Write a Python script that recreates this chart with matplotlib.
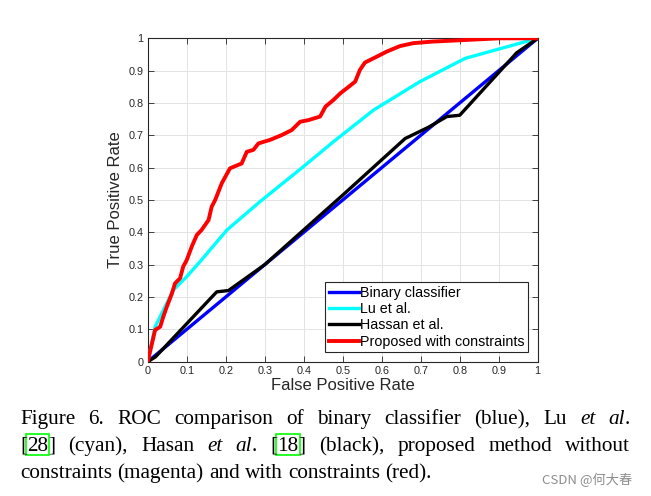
import matplotlib
matplotlib.use("Agg")
import matplotlib.pyplot as plt
from matplotlib.patches import Rectangle

# ---------------- data ----------------
binary_fpr = [0.0, 1.0]
binary_tpr = [0.0, 1.0]

lu_fpr = [0.0, 0.019, 0.066, 0.10, 0.134, 0.203, 0.288, 0.399, 0.476, 0.579, 0.698, 0.814, 1.0]
lu_tpr = [0.0, 0.108, 0.222, 0.263, 0.309, 0.407, 0.495, 0.603, 0.680, 0.778, 0.866, 0.938, 1.0]

hassan_fpr = [0.0, 0.02, 0.177, 0.207, 0.30, 0.50, 0.66, 0.72, 0.767, 0.80, 0.946, 1.0]
hassan_tpr = [0.0, 0.015, 0.216, 0.220, 0.30, 0.515, 0.69, 0.725, 0.758, 0.762, 0.955, 1.0]

prop_fpr = [0.0, 0.019, 0.032, 0.040, 0.049, 0.062, 0.070, 0.083, 0.091, 0.100, 0.113,
            0.126, 0.138, 0.156, 0.164, 0.173, 0.190, 0.211, 0.241, 0.254, 0.271, 0.284,
            0.314, 0.344, 0.369, 0.391, 0.412, 0.442, 0.456, 0.476, 0.494, 0.510, 0.532,
            0.544, 0.557, 0.587, 0.613, 0.647, 0.681, 0.732, 0.818, 0.903, 1.0]
prop_tpr = [0.0, 0.098, 0.108, 0.139, 0.170, 0.211, 0.242, 0.258, 0.294, 0.314, 0.356,
            0.392, 0.407, 0.438, 0.479, 0.500, 0.552, 0.598, 0.613, 0.649, 0.655, 0.675,
            0.686, 0.701, 0.716, 0.742, 0.747, 0.758, 0.789, 0.809, 0.830, 0.845, 0.866,
            0.902, 0.925, 0.943, 0.959, 0.976, 0.985, 0.990, 0.995, 1.0, 1.0]

ticks = [0, 0.1, 0.2, 0.3, 0.4, 0.5, 0.6, 0.7, 0.8, 0.9, 1]
tick_labels = ["0", "0.1", "0.2", "0.3", "0.4", "0.5", "0.6", "0.7", "0.8", "0.9", "1"]
legend_labels = ["Binary classifier", "Lu et al.", "Hassan et al.", "Proposed with constraints"]

# ---------------- figure ----------------
W, H = 651, 496
fig = plt.figure(figsize=(W / 100, H / 100), dpi=100)
fig.patch.set_facecolor("white")
sans = "Liberation Sans"
serif = "Liberation Serif"

ax = fig.add_axes([147.7 / W, 1 - 361.7 / H, 390 / W, 323.4 / H])
ax.plot(binary_fpr, binary_tpr, color="#0000ff", lw=2.4, label=legend_labels[0], zorder=3)
ax.plot(lu_fpr, lu_tpr, color="#00ffff", lw=2.4, label=legend_labels[1], zorder=3)
ax.plot(hassan_fpr, hassan_tpr, color="#000000", lw=2.4, label=legend_labels[2], zorder=4)
ax.plot(prop_fpr, prop_tpr, color="#ff0000", lw=2.8, label=legend_labels[3], zorder=5)

ax.set_xlim(0, 1)
ax.set_ylim(0, 1)
ax.set_xticks(ticks)
ax.set_yticks(ticks)
ax.set_xticklabels(tick_labels, fontfamily=sans, fontsize=7.8)
ax.set_yticklabels(tick_labels, fontfamily=sans, fontsize=7.8)
ax.tick_params(direction="in", length=4, width=0.6, top=True, right=True, pad=3, colors="#262626")
ax.grid(True, color="#e3e3e3", lw=0.7)
ax.set_axisbelow(True)
for s in ax.spines.values():
    s.set_color("#262626")
    s.set_linewidth(0.8)

fig.text(115 / W, 1 - 200 / H, "True Positive Rate", rotation=90, ha="center", va="center",
         fontfamily=sans, fontsize=12, color="#262626")
fig.text(342.7 / W, 1 - 386 / H, "False Positive Rate", ha="center", va="center",
         fontfamily=sans, fontsize=12, color="#262626")

leg = ax.legend(loc="lower right", bbox_to_anchor=(0.976, 0.029), borderaxespad=0,
                prop={"family": sans, "size": 10.25}, frameon=True, fancybox=False,
                edgecolor="#262626", framealpha=1, handlelength=2.1, handletextpad=0.1,
                labelspacing=0.17, borderpad=0.25)
leg.get_frame().set_linewidth(0.8)

# ---------------- caption (justified) ----------------
fig.canvas.draw()
renderer = fig.canvas.get_renderer()

line1 = [[("Figure", "n", False)], [("6.", "n", False)], [("ROC", "n", False)],
         [("comparison", "n", False)], [("of", "n", False)], [("binary", "n", False)],
         [("classifier", "n", False)], [("(blue),", "n", False)], [("Lu", "n", False)],
         [("et", "i", False)], [("al", "i", False), (".", "n", False)]]
line2 = [[("[", "n", False), ("28", "n", True), ("]", "n", False)], [("(cyan),", "n", False)],
         [("Hasan", "n", False)], [("et", "i", False)], [("al", "i", False), (".", "n", False)],
         [("[", "n", False), ("18", "n", True), ("]", "n", False)], [("(black),", "n", False)],
         [("proposed", "n", False)], [("method", "n", False)], [("without", "n", False)]]
line3 = [[("constraints", "n", False)], [("(magenta)", "n", False)], [("and", "n", False)],
         [("with", "n", False)], [("constraints", "n", False)], [("(red).", "n", False)]]

cap_fs = 15.3
left_px, right_px = 20.0, 630.0
baselines = [424.0, 451.0, 478.0]


def make(seg, x, y):
    txt, st, _ = seg
    return fig.text(x / W, 1 - y / H, txt, fontfamily=serif, fontsize=cap_fs,
                    fontstyle="italic" if st == "i" else "normal", va="baseline",
                    ha="left", color="black")


def width_of(t):
    return t.get_window_extent(renderer).width


space_probe = fig.text(0, 0, "a a", fontfamily=serif, fontsize=cap_fs)
aa_probe = fig.text(0, 0, "aa", fontfamily=serif, fontsize=cap_fs)
space_w = width_of(space_probe) - width_of(aa_probe)
space_probe.remove()
aa_probe.remove()

for li, (line, yb) in enumerate(zip([line1, line2, line3], baselines)):
    words = []
    for word in line:
        segs = []
        for seg in word:
            t = make(seg, 0, yb)
            segs.append((t, width_of(t), seg[2]))
        words.append(segs)
    widths = [sum(s[1] for s in w) for w in words]
    if li < 2:
        gap = (right_px - left_px - sum(widths)) / (len(words) - 1)
    else:
        gap = space_w
    x = left_px
    for w, segs in zip(widths, words):
        xx = x
        for t, sw, boxed in segs:
            t.set_x(xx / W)
            if boxed:
                fig.patches.append(Rectangle(((xx - 1) / W, 1 - (yb + 4) / H), (sw + 2) / W,
                                             21 / H, transform=fig.transFigure, fill=False,
                                             edgecolor="#00ff00", lw=1.2))
            xx += sw
        x += w + gap

fig.text(632 / W, 1 - 480 / H, "CSDN @何大春", ha="right", va="center",
         family=["Noto Sans CJK SC", "DejaVu Sans"], fontsize=9.5, color="#8c8c8c")

fig.savefig("out.png", dpi=100)
